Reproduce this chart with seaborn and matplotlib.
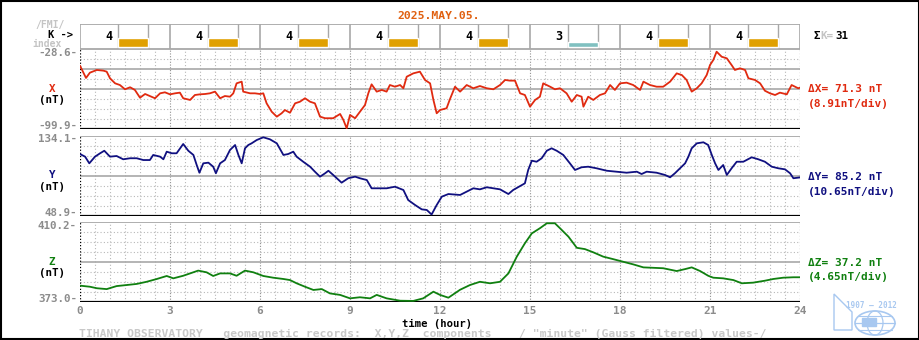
import matplotlib
matplotlib.use("Agg")
import matplotlib.pyplot as plt
import seaborn as sns
import pandas as pd
from matplotlib.patches import Rectangle, Ellipse, Polygon

# ---------------- data ----------------
date_label = "2025.MAY.05."
k_index = [4, 4, 4, 4, 4, 3, 4, 4]
hour_ticks = [0, 3, 6, 9, 12, 15, 18, 21, 24]

x_range = (-99.9, -28.6)
y_range = (48.9, 134.1)
z_range = (373.0, 410.2)

x_hours = [0.0, 0.2, 0.33, 0.56, 0.78, 0.89, 1.0, 1.17, 1.33, 1.5, 1.67, 1.83, 2.0, 2.17, 2.33, 2.5,
           2.67, 2.83, 3.0, 3.17, 3.33, 3.44, 3.67, 3.83, 4.0, 4.17, 4.33, 4.5, 4.67, 4.83, 5.0, 5.11,
           5.22, 5.39, 5.44, 5.67, 5.83, 6.0, 6.11, 6.22, 6.39, 6.56, 6.72, 6.83, 7.0, 7.17, 7.33, 7.5,
           7.67, 7.83, 8.0, 8.17, 8.44, 8.67, 8.78, 8.89, 9.0, 9.17, 9.33, 9.5, 9.61, 9.72, 9.89, 10.06,
           10.22, 10.33, 10.5, 10.67, 10.78, 10.89, 11.11, 11.33, 11.5, 11.67, 11.78, 11.89, 12.0, 12.22,
           12.33, 12.5, 12.67, 12.89, 13.11, 13.33, 13.56, 13.78, 14.0, 14.17, 14.33, 14.5, 14.67, 14.83,
           15.0, 15.17, 15.33, 15.44, 15.67, 15.83, 16.0, 16.22, 16.39, 16.56, 16.72, 16.78, 16.94, 17.11,
           17.33, 17.5, 17.67, 17.83, 18.0, 18.22, 18.44, 18.67, 18.78, 19.0, 19.22, 19.44, 19.67, 19.89,
           20.06, 20.22, 20.39, 20.56, 20.72, 20.89, 21.0, 21.11, 21.22, 21.39, 21.56, 21.72, 21.83, 22.0,
           22.17, 22.28, 22.5, 22.67, 22.83, 23.0, 23.17, 23.33, 23.56, 23.72, 23.94, 24.0]
x_vals = [-43.5, -54.4, -49.7, -47.3, -47.9, -48.8, -54.7, -59.2, -60.7, -64.5, -62.7, -65.1, -72.0, -68.7, -70.5, -72.5,
          -68.1, -67.2, -69.0, -68.1, -67.5, -72.5, -74.0, -69.6, -69.0, -68.7, -68.1, -66.6, -72.5, -70.5, -71.1, -68.1,
          -59.2, -57.7, -66.6, -68.1, -68.1, -68.7, -68.1, -77.0, -84.5, -88.9, -85.9, -83.0, -85.4, -77.0, -75.6, -72.5,
          -75.6, -77.0, -88.9, -90.3, -90.3, -86.5, -91.9, -99.3, -87.4, -90.3, -84.5, -78.5, -68.1, -60.1, -66.6, -65.1,
          -66.6, -60.7, -62.2, -60.7, -63.6, -53.3, -50.3, -48.8, -56.2, -59.2, -74.0, -85.9, -83.0, -81.4,
          -73.4, -62.2, -66.6, -60.7, -63.6, -61.6, -63.6, -64.5, -60.7, -56.2, -56.8, -56.8, -68.1, -69.6,
          -80.0, -74.0, -71.1, -59.2, -62.2, -64.5, -63.6, -68.1, -75.6, -69.6, -71.1, -80.0, -71.1, -74.0,
          -69.6, -68.1, -60.7, -65.1, -59.2, -58.6, -60.7, -65.1, -57.7, -60.7, -62.2, -62.2, -57.7, -50.3,
          -51.8, -56.2, -66.6, -63.6, -59.2, -51.8, -42.9, -38.4, -31.0, -35.5, -36.9, -42.9, -47.3, -45.8,
          -47.3, -54.7, -56.2, -59.2, -65.8, -68.1, -69.6, -67.5, -69.0, -60.7, -63.6, -63.0]

y_hours = [0.0, 0.17, 0.31, 0.5, 0.67, 0.81, 1.0, 1.22, 1.44, 1.67, 1.89, 2.11, 2.33, 2.44, 2.67, 2.78,
           2.89, 3.06, 3.22, 3.44, 3.61, 3.78, 3.89, 3.98, 4.11, 4.28, 4.44, 4.53, 4.67, 4.83, 5.0, 5.17,
           5.28, 5.39, 5.5, 5.61, 5.72, 5.89, 6.11, 6.33, 6.56, 6.78, 6.94, 7.11, 7.22, 7.44, 7.67, 7.83,
           8.0, 8.17, 8.28, 8.44, 8.72, 8.94, 9.17, 9.33, 9.56, 9.72, 9.94, 10.22, 10.5, 10.78, 10.94, 11.17,
           11.39, 11.56, 11.72, 11.89, 12.06, 12.28, 12.67, 12.89, 13.11, 13.33, 13.56, 13.78, 14.0, 14.28,
           14.44, 14.67, 14.83, 14.94, 15.06, 15.22, 15.39, 15.56, 15.72, 15.89, 16.11, 16.33, 16.5, 16.72,
           16.94, 17.22, 17.56, 17.89, 18.22, 18.56, 18.72, 18.89, 19.22, 19.5, 19.67, 19.83, 20.0, 20.17,
           20.28, 20.39, 20.56, 20.78, 20.94, 21.06, 21.17, 21.28, 21.44, 21.56, 21.72, 21.89, 22.11, 22.39,
           22.61, 22.83, 23.06, 23.28, 23.5, 23.67, 23.78, 23.94, 24.0]
y_vals = [114.9, 112.1, 105.0, 112.1, 115.7, 118.4, 112.1, 112.8, 109.3, 110.4, 110.4, 108.5, 108.5, 113.9, 112.1, 109.3,
          117.4, 115.7, 115.7, 125.6, 118.4, 113.9, 103.2, 95.0, 105.0, 105.7, 101.4, 94.4, 105.0, 108.5, 119.2, 124.5,
          113.9, 105.0, 121.0, 124.5, 126.3, 129.8, 132.7, 130.6, 126.3, 113.9, 114.9, 117.4, 112.1, 106.7, 101.4, 96.1,
          90.8, 94.4, 97.1, 92.6, 84.4, 89.1, 90.8, 89.1, 87.2, 78.4, 78.4, 78.4, 80.1, 76.6, 65.9, 60.6,
          56.0, 55.3, 50.5, 60.6, 69.5, 72.3, 71.3, 74.8, 78.4, 77.3, 79.5, 78.4, 77.3, 72.3,
          76.6, 80.8, 83.7, 97.9, 107.8, 106.7, 110.4, 118.4, 121.0, 118.4, 113.9, 105.0, 97.9, 100.8,
          101.4, 99.7, 97.1, 96.1, 95.0, 96.1, 93.6, 96.1, 95.0, 92.6, 90.1, 94.4, 99.7, 105.0,
          112.1, 121.0, 126.3, 127.4, 124.5, 113.9, 105.0, 97.9, 103.2, 92.6, 99.7, 106.7, 106.7, 111.4,
          109.3, 106.7, 101.4, 99.7, 98.6, 94.4, 89.1, 89.7, 90.0]

z_hours = [0.0, 0.33, 0.56, 0.89, 1.22, 1.56, 1.89, 2.22, 2.56, 2.89, 3.11, 3.44, 3.67, 3.94, 4.22, 4.44,
           4.67, 5.0, 5.22, 5.5, 5.78, 6.11, 6.44, 6.78, 7.0, 7.22, 7.5, 7.78, 8.06, 8.33, 8.67, 9.0,
           9.33, 9.67, 9.89, 10.22, 10.67, 11.11, 11.44, 11.78, 12.0, 12.28, 12.67, 13.0, 13.33, 13.67,
           14.0, 14.28, 14.56, 14.83, 15.06, 15.33, 15.56, 15.83, 16.0, 16.28, 16.56, 16.83, 17.11, 17.44,
           17.78, 18.11, 18.44, 18.78, 19.11, 19.44, 19.89, 20.17, 20.39, 20.67, 20.94, 21.11, 21.44, 21.78,
           22.06, 22.44, 22.83, 23.11, 23.44, 23.78, 24.0]
z_vals = [380.6, 380.1, 379.4, 379.0, 380.4, 380.9, 381.4, 382.4, 383.7, 385.1, 384.0, 385.2, 386.3, 387.6, 386.8, 385.1,
          386.3, 386.3, 385.2, 387.6, 386.8, 385.1, 384.3, 383.7, 383.2, 381.7, 380.1, 378.6, 379.0, 377.0, 376.3, 374.7,
          375.2, 374.7, 376.3, 374.7, 373.6, 373.5, 374.7, 377.8, 376.3, 375.0, 378.7, 380.9, 382.4, 381.7,
          382.4, 386.3, 394.1, 400.3, 404.9, 407.3, 409.6, 409.6, 407.3, 403.4, 398.2, 397.6, 396.1, 394.1,
          392.9, 391.7, 390.5, 389.1, 388.9, 388.7, 387.4, 388.3, 389.1, 387.4, 385.2, 384.3, 384.0, 383.2,
          381.7, 382.0, 382.9, 383.7, 384.3, 384.5, 384.5]

# ---------------- style ----------------
sns.set_style("white")
plt.rcParams['font.family'] = ['DejaVu Sans Mono', 'DejaVu Sans']
plt.rcParams['font.weight'] = 'bold'

W, H = 920, 340
fig = plt.figure(figsize=(9.2, 3.4), dpi=100)
fig.patch.set_facecolor("white")

RED = "#e02a10"
NAVY = "#101080"
GREEN = "#108010"
GRID = "#b8b8b8"
SOLID = "#a8a8a8"
TXTGRAY = "#8c8c8c"
LIGHT = "#c4c4c4"
DOT = (0, (1, 2))


def add_ax(x0, y0, x1, y1):
    return fig.add_axes([x0 / W, 1 - y1 / H, (x1 - x0) / W, (y1 - y0) / H])


def clean(ax):
    for s in ax.spines.values():
        s.set_visible(False)
    ax.set_xticks([])
    ax.set_yticks([])
    ax.set_xlabel("")
    ax.set_ylabel("")
    ax.patch.set_alpha(0)


def panel(ax, hours, vals, rng, color, extra_solid=()):
    lo, hi = rng
    ax.set_xlim(0, 24)
    ax.set_ylim(lo, hi)
    step = (hi - lo) / 8
    for i in range(1, 48):
        h = i * 0.5
        if i % 6 == 0:
            ax.axvline(h, color="#909090", lw=0.8, ls=(0, (1, 1.5)), zorder=1)
        else:
            ax.axvline(h, color=GRID, lw=0.8, ls=DOT, zorder=1)
    ax.axvline(0, color="black", lw=0.9, ls=(0, (1, 1.5)), zorder=2)
    ax.axvline(24, color="#909090", lw=0.9, ls=(0, (1, 1.5)), zorder=2)
    for i in range(1, 8):
        yv = lo + i * step
        if i == 4 or i in extra_solid:
            ax.axhline(yv, color=SOLID, lw=1.2, zorder=1)
        else:
            ax.axhline(yv, color=GRID, lw=0.8, ls=DOT, zorder=1)
    ax.axhline(hi, color=SOLID, lw=1.3, zorder=1)
    ax.axhline(lo, color="black", lw=1.6, zorder=3)
    df = pd.DataFrame({"hour": hours, "val": vals})
    sns.lineplot(data=df, x="hour", y="val", ax=ax, color=color, lw=1.3,
                 estimator=None, sort=False, zorder=4)
    clean(ax)


# K panel
axk = add_ax(80, 24, 800, 49)
axk.set_xlim(0, 24)
axk.set_ylim(1.25, 7.5)
kcolors = {3: "#80c0c0", 4: "#e0a000", 5: "#e06000"}
for i, k in enumerate(k_index):
    x0 = 3 * i
    axk.axvline(x0 + 1.27, color=SOLID, lw=1.0)
    axk.axvline(x0 + 2.27, color=SOLID, lw=1.0)
    axk.bar(x0 + 1.27, k - 1.75, bottom=1.75, width=1.0, align="edge",
            color=kcolors.get(k, "#e0a000"), zorder=3)
    axk.text(x0 + 0.97, 4.25, str(k), ha="center", va="center", fontsize=8.5,
             fontweight="bold", color="black")
for h in hour_ticks:
    axk.axvline(h, color=SOLID, lw=1.2)
axk.axhline(7.5, color=SOLID, lw=1.3)
axk.axhline(1.25, color=SOLID, lw=1.3)
clean(axk)

axx = add_ax(80, 49, 800, 129)
panel(axx, x_hours, x_vals, x_range, RED, extra_solid=(6,))
axy = add_ax(80, 136, 800, 216)
panel(axy, y_hours, y_vals, y_range, NAVY)
axz = add_ax(80, 222, 800, 302)
panel(axz, z_hours, z_vals, z_range, GREEN)
axz.set_xticks(hour_ticks)
axz.set_xticklabels([str(h) for h in hour_ticks], fontsize=8, fontweight="bold", color=TXTGRAY)
axz.tick_params(axis="x", length=0, pad=3)

# ---------------- overlay texts ----------------
ov = fig.add_axes([0, 0, 1, 1], zorder=10)
ov.set_xlim(0, W)
ov.set_ylim(H, 0)
ov.axis("off")
ov.patch.set_alpha(0)


def t(x, y, s, color="black", ha="center", size=7.8, **kw):
    ov.text(x, y, s, color=color, ha=ha, va="center", fontsize=size, fontweight="bold", **kw)


t(439, 16, date_label, color="#e06010", size=8.2)
t(50, 25, "/FMI/", color=LIGHT, size=7)
t(61, 34.5, "K ->", color="black", size=7.5)
t(47, 44, "index", color=LIGHT, size=7)
t(817, 36, "Σ", color="black")
t(827, 36, "K=", color=LIGHT)
t(842, 36, "31", color="black")

t(77, 53, "%.1f-" % x_range[1], color=TXTGRAY, ha="right")
t(77, 126, "%.1f-" % x_range[0], color=TXTGRAY, ha="right")
t(77, 139, "%.1f-" % y_range[1], color=TXTGRAY, ha="right")
t(77, 213, "%.1f-" % y_range[0], color=TXTGRAY, ha="right")
t(77, 226, "%.1f-" % z_range[1], color=TXTGRAY, ha="right")
t(77, 299, "%.1f-" % z_range[0], color=TXTGRAY, ha="right")

t(52, 89, "X", color=RED)
t(52, 100, "(nT)")
t(52, 175, "Y", color=NAVY)
t(52, 187, "(nT)")
t(52, 262, "Z", color=GREEN)
t(52, 273, "(nT)")

dx = x_range[1] - x_range[0]
dy = y_range[1] - y_range[0]
dz = z_range[1] - z_range[0]
t(808, 89, "ΔX= %.1f nT" % dx, color=RED, ha="left", size=8)
t(808, 104, "(%.2fnT/div)" % (dx / 8), color=RED, ha="left", size=8)
t(808, 177, "ΔY= %.1f nT" % dy, color=NAVY, ha="left", size=8)
t(808, 192, "(%.2fnT/div)" % (dy / 8), color=NAVY, ha="left", size=8)
t(808, 263, "ΔZ= %.1f nT" % dz, color=GREEN, ha="left", size=8)
t(808, 277, "(%.2fnT/div)" % (dz / 8), color=GREEN, ha="left", size=8)

t(437, 324, "time (hour)", color="black", size=7.6)
t(79, 333.5, 'TIHANY OBSERVATORY   geomagnetic records:  X,Y,Z  components    / "minute" (Gauss filtered) values-/',
  color="#c8c8c8", ha="left", size=8.2)

# logo
LOGO = "#a8c8f0"
t(871, 305, "1907 — 2012", color=LOGO, size=5.5)
ov.add_patch(Polygon([(834, 294), (852, 312), (852, 330), (834, 330)], closed=True,
                     fill=False, ec=LOGO, lw=1.0))
ov.add_patch(Ellipse((875, 323), 40, 24, fill=False, ec=LOGO, lw=1.2))
ov.add_patch(Ellipse((875, 323), 16, 24, fill=False, ec=LOGO, lw=0.9))
ov.plot([855, 895], [323, 323], color=LOGO, lw=0.9)
ov.plot([858, 892], [316, 316], color=LOGO, lw=0.8)
ov.plot([858, 892], [330, 330], color=LOGO, lw=0.8)
ov.add_patch(Rectangle((862, 318), 14, 8, color=LOGO))

ov.add_patch(Rectangle((1, 1), W - 2, H - 2, fill=False, ec="black", lw=1.5))

fig.savefig("out.png", dpi=100)
